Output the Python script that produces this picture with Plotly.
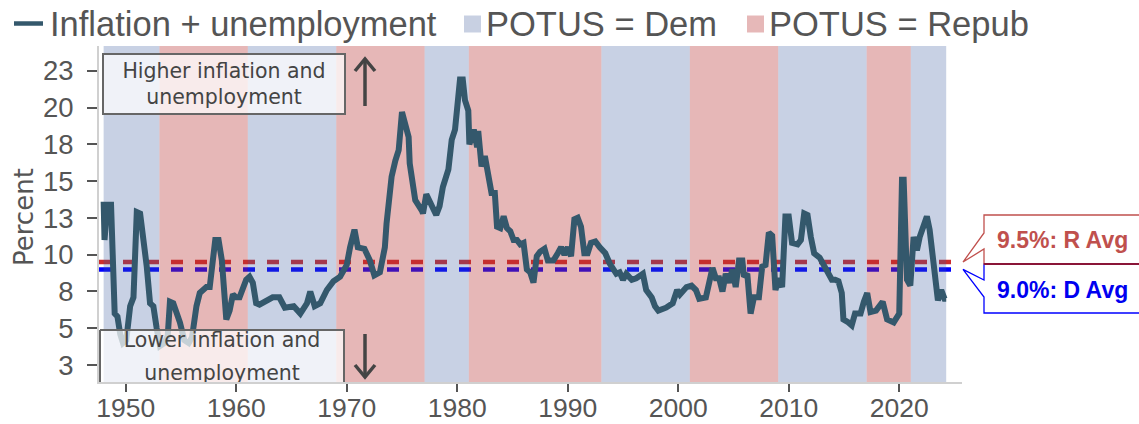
import plotly.graph_objects as go

# ---- data -------------------------------------------------------------
# Inflation rate + unemployment rate (percent), by decimal year
years = [
    1948.00, 1948.08, 1948.33, 1948.67, 1949.00, 1949.25, 1949.50, 1949.75, 1950.05, 1950.40,
    1950.70, 1951.00, 1951.30, 1951.60, 1951.75, 1951.90, 1952.20, 1952.50, 1952.80, 1953.10,
    1953.50, 1953.80, 1954.00, 1954.30, 1954.90, 1955.30, 1955.70, 1956.00, 1956.40, 1956.70,
    1957.30, 1957.60, 1958.10, 1958.40, 1958.70, 1959.10, 1959.40, 1959.70, 1960.00, 1960.30,
    1960.90, 1961.20, 1961.50, 1961.80, 1962.10, 1962.70, 1963.30, 1963.90, 1964.40, 1965.20,
    1965.80, 1966.40, 1966.70, 1967.10, 1967.60, 1968.20, 1968.80, 1969.40, 1970.00, 1970.30,
    1970.70, 1971.00, 1971.60, 1972.10, 1972.50, 1973.00, 1973.45, 1973.60, 1974.06, 1974.40,
    1974.70, 1975.00, 1975.30, 1975.60, 1975.70, 1976.20, 1976.80, 1976.90, 1977.20, 1977.50,
    1977.80, 1978.10, 1978.40, 1978.70, 1979.20, 1979.50, 1979.80, 1980.10, 1980.25, 1980.50,
    1980.70, 1981.00, 1981.10, 1981.50, 1981.80, 1981.90, 1982.20, 1982.50, 1982.80, 1983.10,
    1983.40, 1983.60, 1983.90, 1984.20, 1984.50, 1984.80, 1985.10, 1985.40, 1985.70, 1986.00,
    1986.30, 1986.60, 1986.90, 1987.20, 1987.50, 1987.90, 1988.20, 1988.70, 1989.10, 1989.40,
    1989.70, 1990.00, 1990.30, 1990.60, 1990.90, 1991.20, 1991.50, 1991.80, 1992.10, 1992.50,
    1992.90, 1993.40, 1993.80, 1994.10, 1994.40, 1994.70, 1995.00, 1995.30, 1995.80, 1996.20,
    1996.80, 1997.10, 1997.60, 1997.90, 1998.20, 1998.90, 1999.50, 1999.90, 2000.15, 2000.75,
    2001.20, 2001.60, 2001.90, 2002.50, 2002.80, 2003.10, 2003.40, 2003.70, 2004.00, 2004.30,
    2004.60, 2004.90, 2005.20, 2005.50, 2005.80, 2005.95, 2006.25, 2006.55, 2006.85, 2007.30,
    2007.60, 2007.90, 2008.20, 2008.50, 2008.80, 2009.10, 2009.40, 2009.70, 2010.00, 2010.30,
    2010.80, 2011.10, 2011.40, 2011.70, 2012.00, 2012.30, 2012.80, 2013.10, 2013.40, 2013.90,
    2014.20, 2014.50, 2014.80, 2014.95, 2015.40, 2015.70, 2016.00, 2016.50, 2016.80, 2017.10,
    2017.40, 2017.90, 2018.50, 2018.90, 2019.50, 2020.00, 2020.25, 2020.40, 2020.70, 2021.00,
    2021.30, 2021.60, 2021.85, 2022.20, 2022.50, 2022.75, 2023.10, 2023.40, 2023.50, 2023.80,
    2024.10, 2024.25,
]
misery = [
    13.6, 11.0, 13.4, 13.4, 6.0, 5.8, 4.6, 4.0, 4.2, 6.5,
    7.1, 12.9, 12.8, 11.1, 10.5, 9.2, 6.7, 6.5, 5.0, 3.8,
    4.0, 4.5, 6.8, 6.7, 5.4, 4.2, 4.0, 4.4, 6.5, 7.4,
    7.8, 7.8, 11.0, 11.0, 9.6, 5.6, 6.2, 7.3, 7.1, 7.1,
    8.3, 8.5, 8.1, 6.7, 6.6, 6.9, 7.1, 7.1, 6.4, 6.5,
    6.0, 6.7, 7.5, 6.5, 6.7, 7.6, 8.2, 8.5, 9.3, 10.5,
    11.7, 10.5, 10.4, 9.6, 8.6, 8.8, 10.5, 12.1, 15.3, 16.4,
    17.1, 19.7, 18.7, 18.0, 16.2, 13.7, 13.0, 12.8, 14.1, 13.7,
    13.3, 12.7, 13.3, 14.6, 15.8, 17.8, 18.5, 20.7, 21.9, 21.9,
    20.5, 19.8, 17.5, 18.5, 17.3, 18.4, 16.0, 16.7, 15.3, 14.2,
    14.2, 11.9, 11.8, 12.6, 11.8, 11.6, 11.0, 11.0, 10.7, 10.8,
    9.0, 8.8, 8.1, 9.9, 10.2, 10.4, 9.6, 9.6, 10.1, 10.5,
    10.0, 10.5, 9.9, 12.4, 12.5, 11.9, 10.1, 10.1, 10.8, 10.9,
    10.5, 10.1, 9.4, 9.0, 8.7, 8.8, 8.3, 8.7, 8.3, 8.4,
    8.7, 7.6, 7.1, 6.5, 6.2, 6.4, 6.7, 7.6, 7.3, 7.8,
    7.9, 7.6, 7.0, 7.1, 8.1, 9.1, 8.4, 8.4, 7.5, 8.7,
    8.1, 9.0, 7.8, 9.6, 9.6, 8.5, 8.7, 6.0, 7.1, 7.1,
    9.2, 9.3, 11.5, 11.3, 7.6, 8.4, 7.8, 12.6, 12.6, 10.8,
    10.7, 11.0, 12.8, 12.7, 11.2, 10.1, 9.8, 9.4, 9.0, 8.3,
    8.3, 8.2, 7.4, 5.6, 5.4, 5.2, 6.0, 6.0, 6.8, 7.4,
    6.1, 6.2, 6.8, 5.6, 5.4, 6.0, 15.1, 15.1, 8.3, 7.9,
    11.2, 10.3, 11.2, 12.1, 12.6, 11.7, 9.6, 8.3, 6.9, 7.6,
    7.0, 7.0,
]

# Presidential terms and the party in the White House
term_starts = [1948.00, 1953.05, 1961.05, 1969.05, 1977.05, 1981.05, 1993.05, 2001.05, 2009.05, 2017.05, 2021.05]
term_ends   = [1953.05, 1961.05, 1969.05, 1977.05, 1981.05, 1993.05, 2001.05, 2009.05, 2017.05, 2021.05, 2024.25]
term_party  = ["D", "R", "D", "R", "D", "R", "D", "R", "D", "R", "D"]

# Average of the series under each party
avg_repub = 9.5
avg_dem = 9.0

x_tick_values = [1950, 1960, 1970, 1980, 1990, 2000, 2010, 2020]
y_tick_values = [2.5, 5, 7.5, 10, 12.5, 15, 17.5, 20, 22.5]
y_tick_labels = ["3", "5", "8", "10", "13", "15", "18", "20", "23"]

# ---- layout geometry (pixels) ----------------------------------------
W, H = 1139, 424
PL, PR, PT, PB = 99, 962, 46, 382
X0, X1 = 1947.58, 2025.68
Y0, Y1 = 1.35, 24.18

def px_x(px):
    return (px - PL) / (PR - PL)

def px_y(py):
    return (PB - py) / (PB - PT)

def data_x(px):
    return X0 + (px - PL) / (PR - PL) * (X1 - X0)

def data_y(py):
    return Y0 + (PB - py) / (PB - PT) * (Y1 - Y0)

def val_py(v):
    return PB - (v - Y0) / (Y1 - Y0) * (PB - PT)

FONT = "Liberation Sans, Arial, sans-serif"
WIDE = "DejaVu Sans, Verdana, sans-serif"
GREY = "#555555"
DARK = "#444444"
LINE_COLOR = "#34586c"
DEM_FILL = "rgba(58,88,158,0.28)"
REP_FILL = "rgba(184,49,49,0.35)"
DEM_SOLID = "#c8d0e2"
REP_SOLID = "#e6b8b8"
R_TEXT = "#c0504d"
D_TEXT = "#0000f0"
BOX_TEXT = 20.5

fig = go.Figure()

# main series
fig.add_trace(go.Scatter(
    x=years, y=misery, mode="lines",
    line=dict(color=LINE_COLOR, width=6),
    hoverinfo="x+y", showlegend=False,
))

# "Lower inflation" box, clipped by the plot area
bx0, bx1, by0, by1 = data_x(100), data_x(344), data_y(330), data_y(420)
fig.add_trace(go.Scatter(
    x=[bx0, bx1, bx1, bx0, bx0], y=[by0, by0, by1, by1, by0],
    mode="lines", fill="toself", fillcolor="rgba(255,255,255,0.72)",
    line=dict(color="#666666", width=2), hoverinfo="skip", showlegend=False,
))
fig.add_trace(go.Scatter(
    x=[data_x(222), data_x(222)], y=[data_y(349 - 0.35 * BOX_TEXT), data_y(382 - 0.35 * BOX_TEXT)],
    mode="text", text=["Lower inflation and", "unemployment"],
    textposition="middle center",
    textfont=dict(family=WIDE, size=BOX_TEXT, color=DARK),
    cliponaxis=True, hoverinfo="skip", showlegend=False,
))

shapes = []
# party averages (under the shaded bands)
shapes.append(dict(type="line", xref="paper", yref="y", x0=0, x1=1, y0=avg_repub, y1=avg_repub,
                   line=dict(color="rgb(205,45,45)", width=4.5, dash="12px,12px"), layer="below"))
shapes.append(dict(type="line", xref="paper", yref="y", x0=0, x1=1, y0=avg_dem, y1=avg_dem,
                   line=dict(color="rgb(0,0,255)", width=4.5, dash="12px,12px"), layer="below"))
# presidential terms
for s, e, p in zip(term_starts, term_ends, term_party):
    shapes.append(dict(type="rect", xref="x", yref="paper", x0=s, x1=e, y0=0, y1=1,
                       fillcolor=DEM_FILL if p == "D" else REP_FILL,
                       line=dict(width=0), layer="below"))

# legend symbols
shapes.append(dict(type="line", xref="paper", yref="paper",
                   x0=px_x(14), x1=px_x(43), y0=px_y(23.5), y1=px_y(23.5),
                   line=dict(color=LINE_COLOR, width=4.5)))
shapes.append(dict(type="rect", xref="paper", yref="paper",
                   x0=px_x(464), x1=px_x(481), y0=px_y(15.5), y1=px_y(32.5),
                   fillcolor=DEM_SOLID, line=dict(width=0)))
shapes.append(dict(type="rect", xref="paper", yref="paper",
                   x0=px_x(747), x1=px_x(764), y0=px_y(15.5), y1=px_y(32.5),
                   fillcolor=REP_SOLID, line=dict(width=0)))

def pxpath(points, closed=False):
    s = "M " + " L ".join(f"{px_x(a):.5f},{px_y(b):.5f}" for a, b in points)
    return s + (" Z" if closed else "")

# direction arrows
arrow_line = dict(color=DARK, width=3.5)
shapes.append(dict(type="path", xref="paper", yref="paper",
                   path=pxpath([(365, 106), (365, 59)]), line=arrow_line))
shapes.append(dict(type="path", xref="paper", yref="paper",
                   path=pxpath([(355, 71), (365, 59), (375, 71)]), line=arrow_line))
shapes.append(dict(type="path", xref="paper", yref="paper",
                   path=pxpath([(365, 334), (365, 377)]), line=arrow_line))
shapes.append(dict(type="path", xref="paper", yref="paper",
                   path=pxpath([(355, 365), (365, 377), (375, 365)]), line=arrow_line))

# callouts for the averages
tip_x = 963
tr = val_py(avg_repub)
td = val_py(avg_dem)
shapes.append(dict(type="path", xref="paper", yref="paper",
                   path=pxpath([(1150, 264), (984, 264), (984, 280), (tip_x, td), (984, 297),
                                (984, 313), (1150, 313)]),
                   fillcolor="white", line=dict(color="#0000ff", width=1.3)))
shapes.append(dict(type="path", xref="paper", yref="paper",
                   path=pxpath([(1150, 215), (984, 215), (984, 233), (tip_x, tr), (984, 249),
                                (984, 264), (1150, 264)]),
                   fillcolor="rgba(255,255,255,0)", line=dict(color=R_TEXT, width=1.3)))
shapes.append(dict(type="line", xref="paper", yref="paper",
                   x0=px_x(984), x1=px_x(1150), y0=px_y(264), y1=px_y(264),
                   line=dict(color="#8a1538", width=2)))

annotations = []
def legend_text(px, txt):
    annotations.append(dict(xref="paper", yref="paper", x=px_x(px), y=px_y(24),
                            xanchor="left", yanchor="middle", text=txt, showarrow=False,
                            font=dict(family=FONT, size=34.5, color=GREY)))

legend_text(48, "Inflation + unemployment")
legend_text(484, "POTUS = Dem")
legend_text(767, "POTUS = Repub")

# axis title
annotations.append(dict(xref="paper", yref="paper", x=px_x(24), y=px_y(217),
                        xanchor="center", yanchor="middle", text="Percent", textangle=-90,
                        showarrow=False, font=dict(family=WIDE, size=26, color=GREY)))

# "Higher inflation" box
annotations.append(dict(xref="paper", yref="paper", x=px_x(102), y=px_y(53),
                        xanchor="left", yanchor="top", width=240, height=58,
                        text="Higher inflation and<br>unemployment", showarrow=False,
                        bgcolor="rgba(255,255,255,0.72)", bordercolor="#666666",
                        borderwidth=2, borderpad=0,
                        font=dict(family=WIDE, size=BOX_TEXT, color=DARK)))

# average labels
annotations.append(dict(xref="paper", yref="paper", x=px_x(995), y=px_y(240),
                        xanchor="left", yanchor="middle", text=f"<b>{avg_repub:.1f}%: R Avg</b>",
                        showarrow=False, font=dict(family=FONT, size=23, color=R_TEXT)))
annotations.append(dict(xref="paper", yref="paper", x=px_x(995), y=px_y(290),
                        xanchor="left", yanchor="middle", text=f"<b>{avg_dem:.1f}%: D Avg</b>",
                        showarrow=False, font=dict(family=FONT, size=23, color=D_TEXT)))

fig.update_layout(
    template="none",
    width=W, height=H,
    margin=dict(l=PL, r=W - PR, t=PT, b=H - PB, pad=0, autoexpand=False),
    paper_bgcolor="white", plot_bgcolor="white",
    showlegend=False,
    shapes=shapes, annotations=annotations,
    font=dict(family=FONT, color=GREY),
    xaxis=dict(range=[X0, X1], tickvals=x_tick_values, ticks="outside", ticklen=8,
               tickwidth=2, tickcolor="#555555", showgrid=False, zeroline=False,
               showline=True, linecolor="#d0d0d0", linewidth=2, automargin=False,
               ticklabelstandoff=-7,
               tickfont=dict(family=FONT, size=26.5, color=GREY)),
    yaxis=dict(range=[Y0, Y1], tickvals=y_tick_values, ticktext=y_tick_labels,
               ticks="outside", ticklen=10, tickwidth=1.5, tickcolor="#555555",
               showgrid=False, zeroline=False, showline=True, linecolor="#d0d0d0",
               linewidth=2, ticklabelstandoff=8, automargin=False,
               tickfont=dict(family=FONT, size=27.5, color=GREY)),
)

fig.write_html("out.html")
